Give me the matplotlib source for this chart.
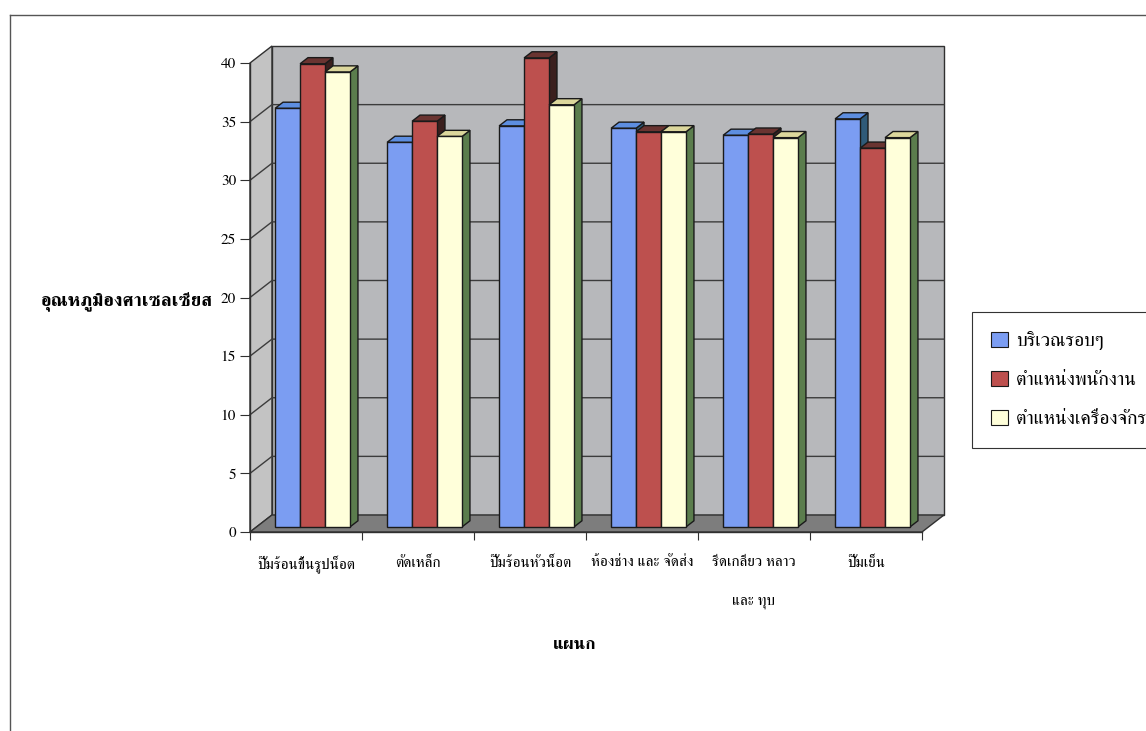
import matplotlib
matplotlib.use("Agg")
import matplotlib.pyplot as plt
from matplotlib.patches import Polygon, Patch
from matplotlib.lines import Line2D

plt.rcParams['font.family'] = ['Norasi', 'FreeSerif', 'DejaVu Serif']

categories = ["ปั๊มร้อนขึ้นรูปน็อต", "ตัดเหล็ก", "ปั๊มร้อนหัวน็อต",
              "ห้องช่าง และ จัดส่ง", "รีดเกลียว หลาว\nและ ทุบ", "ปั๊มเย็น"]
series_names = ["บริเวณรอบๆ", "ตำแหน่งพนักงาน", "ตำแหน่งเครื่องจักร"]
surrounding = [35.7, 32.8, 34.2, 34.0, 33.4, 34.8]
worker = [39.5, 34.6, 40.0, 33.7, 33.5, 32.3]
machine = [38.8, 33.3, 36.0, 33.7, 33.2, 33.2]
yticks = [0, 5, 10, 15, 20, 25, 30, 35, 40]
ylabel = "อุณหภูมิองศาเซลเซียส"
xlabel = "แผนก"

front_c = ["#7b9df2", "#bd504e", "#ffffda"]
top_c = ["#5d8ee0", "#6a3431", "#dcd79c"]
side_c = ["#2f5a78", "#3b1f1e", "#5b7d4d"]

# pseudo-3d box: depth shift in data units, bars occupy part of the depth
DX, DY = 0.196, 1.45
Z0, Z1 = 0.30, 0.66
W = 0.223
G = (1 - 3 * W) / 2
YMAX = 40
N = len(categories)


def proj(x, y, z):
    return (x + z * DX, y + z * DY)


fig = plt.figure(figsize=(11.46, 7.31), dpi=100)
ax = fig.add_axes([250 / 1146, 1 - 532 / 731, 672 / 1146, 469 / 731])
ax.set_xlim(0, N)
ax.set_ylim(0, YMAX)
ax.patch.set_visible(False)

edge = "#303030"
# walls and floor
back = [proj(0, 0, 1), proj(N, 0, 1), proj(N, YMAX, 1), proj(0, YMAX, 1)]
left = [proj(0, 0, 0), proj(0, 0, 1), proj(0, YMAX, 1), proj(0, YMAX, 0)]
floor = [proj(0, 0, 0), proj(N, 0, 0), proj(N, 0, 1), proj(0, 0, 1)]
ax.add_patch(Polygon(back, closed=True, fc="#b7b8bb", ec=edge, lw=1, clip_on=False, zorder=0))
ax.add_patch(Polygon(left, closed=True, fc="#c3c3c3", ec=edge, lw=1, clip_on=False, zorder=0))
ax.add_patch(Polygon(floor, closed=True, fc="#7d7d7d", ec=edge, lw=1, clip_on=False, zorder=0))

for v in yticks[1:-1]:
    xs, ys = zip(proj(0, v, 0), proj(0, v, 1), proj(N, v, 1))
    ax.plot(xs, ys, color="#3c3c3c", lw=1, clip_on=False, zorder=1)

# bars, drawn left to right so the next bar hides the previous side face
values = [surrounding, worker, machine]
z = 2
for i in range(N):
    for j, vals in enumerate(values):
        v = vals[i]
        x0 = i + G + j * W
        x1 = x0 + W
        side = [proj(x1, 0, Z0), proj(x1, 0, Z1), proj(x1, v, Z1), proj(x1, v, Z0)]
        top = [proj(x0, v, Z0), proj(x1, v, Z0), proj(x1, v, Z1), proj(x0, v, Z1)]
        face = [proj(x0, 0, Z0), proj(x1, 0, Z0), proj(x1, v, Z0), proj(x0, v, Z0)]
        for pts, c in ((side, side_c[j]), (top, top_c[j]), (face, front_c[j])):
            ax.add_patch(Polygon(pts, closed=True, fc=c, ec="#1a1a1a", lw=1,
                                 clip_on=False, zorder=z))
        z += 1

for s in ("top", "right"):
    ax.spines[s].set_visible(False)
for s in ("left", "bottom"):
    ax.spines[s].set_color(edge)
    ax.spines[s].set_linewidth(1)
    ax.spines[s].set_zorder(1)

ax.set_yticks(yticks)
ax.tick_params(axis="y", length=7, width=0.8, color=edge, pad=3, labelsize=11)
ax.set_xticks(range(N + 1))
ax.set_xticklabels([])
ax.tick_params(axis="x", which="major", length=6, width=0.8, color=edge)
ax.set_xticks([i + 0.5 for i in range(N)], minor=True)
ax.set_xticklabels(categories, minor=True, fontsize=11, linespacing=3.4)
ax.tick_params(axis="x", which="minor", length=0, pad=17)

ax.set_ylabel(ylabel, rotation=0, ha="right", va="center", fontsize=13.5, fontweight="bold")
ax.yaxis.set_label_coords((213 - 250) / 672, (532 - 302) / 469)
ax.set_xlabel(xlabel, fontsize=12.5, fontweight="bold", va="center")
ax.xaxis.set_label_coords((575 - 250) / 672, (532 - 645) / 469)

handles = [Patch(facecolor=front_c[j], edgecolor="#1a1a1a", lw=0.8) for j in range(3)]
leg = fig.legend(handles, series_names, loc="upper left",
                 bbox_to_anchor=(972 / 1146, 1 - 312 / 731), frameon=True,
                 fancybox=False, edgecolor="#333333", framealpha=1,
                 borderaxespad=0, handlelength=0.85, handleheight=0.85,
                 handletextpad=0.4, labelspacing=1.05, borderpad=1.0,
                 prop={"size": 14})
leg.get_frame().set_linewidth(0.8)

# page border
fig.add_artist(Line2D([10 / 1146, 1], [1 - 15 / 731] * 2, transform=fig.transFigure,
                      color="#555555", lw=1))
fig.add_artist(Line2D([10 / 1146] * 2, [0, 1 - 15 / 731], transform=fig.transFigure,
                      color="#555555", lw=1))

fig.savefig("out.png", dpi=100)
